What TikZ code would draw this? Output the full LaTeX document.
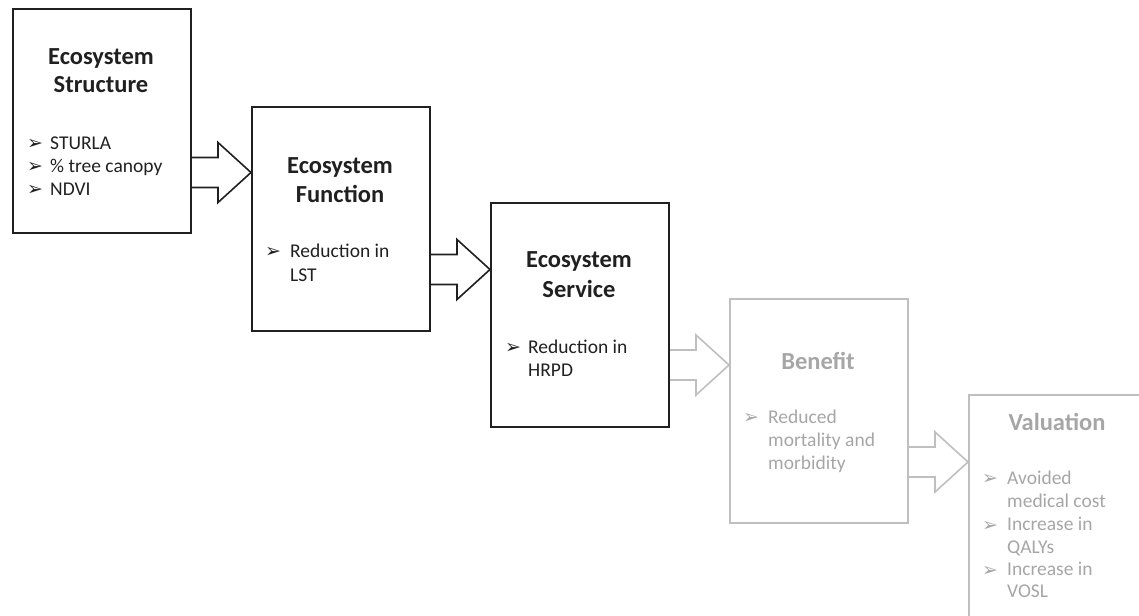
\documentclass[tikz,border=0pt]{standalone}
\usepackage{fontspec}
\setmainfont{Carlito}
\newfontfamily\symfont{DejaVu Sans}
\usetikzlibrary{calc}

\definecolor{ink}{HTML}{202020}
\definecolor{fadeline}{HTML}{BFBFBF}
\definecolor{fadetext}{HTML}{A6A6A6}

\newcommand\itemmark{\raisebox{-0.5pt}{\symfont\fontsize{19}{19}\selectfont ➢}}

\tikzset{
  stage/.style={draw, line width=2pt, minimum width=178pt, minimum height=223.5pt,
    anchor=north west, inner sep=0pt},
  stagetitle/.style={font=\bfseries\fontsize{24.5}{28}\selectfont, anchor=base, inner sep=0pt},
  stageitem/.style={font=\fontsize{19.5}{22}\selectfont, anchor=base west, inner sep=0pt},
  flow/.style={line width=1.6pt, line join=miter},
  active/.style={ink, text=ink},
  faded/.style={fadeline, text=fadetext},
}

% block arrow from the right side of #1 to the left side of #2,
% #3 = drop of the arrow axis below the top of #1, #4 = colour style
\newcommand\blockarrow[4]{%
  \coordinate (#1-out) at ($(#1.north east)+(0,#3)$);
  \coordinate (#1-tip) at (#1-out -| #2.west);
  \draw[flow,#4]
    ($(#1-out)+(0,-15)$) -- ($(#1-tip)+(-33,-15)$) -- ($(#1-tip)+(-33,-30)$)
    -- (#1-tip) -- ($(#1-tip)+(-33,30)$) -- ($(#1-tip)+(-33,15)$) -- ($(#1-out)+(0,15)$);
}

\begin{document}
\begin{tikzpicture}[x=1pt,y=-1pt]
  \useasboundingbox (0,0) rectangle (1139,615);

  % stages of the cascade
  \node[stage,active] (s1) at (12,8) {};
  \node[stage,active] (s2) at (251,106) {};
  \node[stage,active] (s3) at (490,202) {};
  \node[stage,faded]  (s4) at (729,298) {};
  \node[stage,faded]  (s5) at (968,394) {};

  % connecting block arrows
  \blockarrow{s1}{s2}{164.5}{ink}
  \blockarrow{s2}{s3}{163.5}{ink}
  \blockarrow{s3}{s4}{163}{fadeline}
  \blockarrow{s4}{s5}{164}{fadeline}

  \begin{scope}[text=ink]
    % Ecosystem Structure
    \node[stagetitle] (t1a) at ($(s1.north west)+(89,57)$) {Ecosystem};
    \node[stagetitle] (t1b) at ($(s1.north west)+(89,85)$) {Structure};
    \node[stageitem] (i1a) at ($(s1.north west)+(15,141)$) {\makebox[23pt][l]{\itemmark}STURLA};
    \node[stageitem] (i1b) at ($(s1.north west)+(15,164)$) {\makebox[23pt][l]{\itemmark}\% tree canopy};
    \node[stageitem] (i1c) at ($(s1.north west)+(15,187)$) {\makebox[23pt][l]{\itemmark}NDVI};

    % Ecosystem Function
    \node[stagetitle] (t2a) at ($(s2.north west)+(89,67)$) {Ecosystem};
    \node[stagetitle] (t2b) at ($(s2.north west)+(89,96)$) {Function};
    \node[stageitem] (i2a) at ($(s2.north west)+(14,151)$) {\makebox[25pt][l]{\itemmark}Reduction in};
    \node[stageitem] (i2b) at ($(s2.north west)+(39,175)$) {LST};

    % Ecosystem Service
    \node[stagetitle] (t3a) at ($(s3.north west)+(89,65)$) {Ecosystem};
    \node[stagetitle] (t3b) at ($(s3.north west)+(89,95)$) {Service};
    \node[stageitem] (i3a) at ($(s3.north west)+(15,151)$) {\makebox[23pt][l]{\itemmark}Reduction in};
    \node[stageitem] (i3b) at ($(s3.north west)+(38,174)$) {HRPD};
  \end{scope}

  \begin{scope}[text=fadetext]
    % Benefit
    \node[stagetitle] (t4) at ($(s4.north west)+(89,71)$) {Benefit};
    \node[stageitem] (i4a) at ($(s4.north west)+(14,125)$) {\makebox[25pt][l]{\itemmark}Reduced};
    \node[stageitem] (i4b) at ($(s4.north west)+(39,148)$) {mortality and};
    \node[stageitem] (i4c) at ($(s4.north west)+(39,171)$) {morbidity};

    % Valuation
    \node[stagetitle] (t5) at ($(s5.north west)+(89,36)$) {Valuation};
    \node[stageitem] (i5a) at ($(s5.north west)+(14,90)$) {\makebox[25pt][l]{\itemmark}Avoided};
    \node[stageitem] (i5b) at ($(s5.north west)+(39,113.5)$) {medical cost};
    \node[stageitem] (i5c) at ($(s5.north west)+(14,136.5)$) {\makebox[25pt][l]{\itemmark}Increase in};
    \node[stageitem] (i5d) at ($(s5.north west)+(39,159)$) {QALYs};
    \node[stageitem] (i5e) at ($(s5.north west)+(14,181.5)$) {\makebox[25pt][l]{\itemmark}Increase in};
    \node[stageitem] (i5f) at ($(s5.north west)+(39,203)$) {VOSL};
  \end{scope}
\end{tikzpicture}
\end{document}
